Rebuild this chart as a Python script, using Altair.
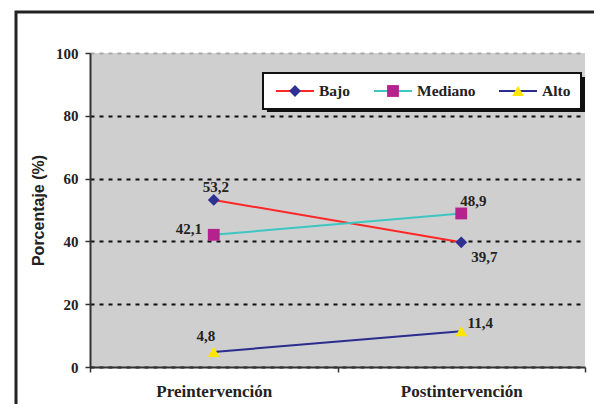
import altair as alt
import pandas as pd

# ---- data ----
phases = ["Preintervención", "Postintervención"]
series = ["Bajo", "Mediano", "Alto"]
bajo = [53.2, 39.7]
mediano = [42.1, 48.9]
alto = [4.8, 11.4]
y_ticks = [0, 20, 40, 60, 80, 100]

# ---- styles ----
line_colors = ["#FF2626", "#3EC6C2", "#2B2D8E"]
marker_colors = ["#2E3192", "#B5218D", "#FFE600"]
marker_shapes = ["diamond", "square", "triangle-up"]
W, H = 495, 314
SERIF = "Liberation Serif"
SANS = "Liberation Sans"

rows = []
for s, vals in zip(series, [bajo, mediano, alto]):
    for p, v in zip(phases, vals):
        rows.append({"fase": p, "serie": s, "valor": v,
                     "etiqueta": f"{v:.1f}".replace(".", ",")})
df = pd.DataFrame(rows)

x_enc = alt.X("fase:N", sort=phases, bandPosition=0.5,
              scale=alt.Scale(type="band", domain=phases, paddingInner=0, paddingOuter=0),
              axis=alt.Axis(title=None, labelAngle=0, tickBand="extent", tickSize=5,
                            labelFont=SERIF, labelFontWeight="bold", labelFontSize=17,
                            labelColor="#222222", labelPadding=11, tickColor="#333333",
                            domainColor="#333333", domainWidth=2, tickWidth=1.5, grid=False))
y_enc = alt.Y("valor:Q", scale=alt.Scale(domain=[0, 100], nice=False),
              axis=alt.Axis(title="Porcentaje (%)", values=y_ticks, tickSize=5,
                            labelFont=SERIF, labelFontWeight="bold", labelFontSize=15,
                            labelColor="#222222", labelPadding=7,
                            titleFont=SANS, titleFontWeight="bold", titleFontSize=16,
                            titleColor="#222222", titlePadding=9,
                            domainColor="#333333", domainWidth=2, tickColor="#333333",
                            tickWidth=1.5,
                            grid=True, gridDash=[4, 5], gridWidth=2,
                            gridColor=alt.condition("datum.value >= 100", alt.value("#A8A8A8"), alt.value("#111111"))))

base = alt.Chart(df)

lines = base.mark_line(strokeWidth=2).encode(
    x=x_enc, y=y_enc,
    color=alt.Color("serie:N", scale=alt.Scale(domain=series, range=line_colors), legend=None),
)
points = base.mark_point(filled=True, opacity=1, size=140, strokeWidth=0).encode(
    x=x_enc, y=y_enc,
    fill=alt.Fill("serie:N", scale=alt.Scale(domain=series, range=marker_colors), legend=None),
    shape=alt.Shape("serie:N", scale=alt.Scale(domain=series, range=marker_shapes), legend=None),
)

label_offsets = {
    ("Bajo", "Preintervención"): (2, -13),
    ("Bajo", "Postintervención"): (23, 15),
    ("Mediano", "Preintervención"): (-25, -6),
    ("Mediano", "Postintervención"): (12, -12),
    ("Alto", "Preintervención"): (-8, -16),
    ("Alto", "Postintervención"): (19, -8),
}
texts = []
for (s, p), (dx, dy) in label_offsets.items():
    texts.append(
        base.transform_filter((alt.datum.serie == s) & (alt.datum.fase == p))
        .mark_text(font=SERIF, fontWeight="bold", fontSize=15, color="#222222",
                   dx=dx, dy=dy, baseline="middle", align="center")
        .encode(x=x_enc, y=y_enc, text="etiqueta:N")
    )

one = alt.Chart(pd.DataFrame({"k": [0]}))

# legend (drawn)
LX0, LX1, LY0, LY1 = 173, 491, 20, 56
legend_layers = [
    one.mark_rect(fill="#111111").encode(x=alt.value(LX0 + 4), x2=alt.value(LX1 + 4),
                                         y=alt.value(LY0 + 4), y2=alt.value(LY1 + 3)),
    one.mark_rect(fill="white", stroke="#111111", strokeWidth=2).encode(
        x=alt.value(LX0), x2=alt.value(LX1), y=alt.value(LY0), y2=alt.value(LY1)),
]
centers = [205, 303, 428]
ly = (LY0 + LY1) / 2
for s, cx, lc, mc, sh in zip(series, centers, line_colors, marker_colors, marker_shapes):
    legend_layers.append(one.mark_rule(color=lc, strokeWidth=2).encode(
        x=alt.value(cx - 19), x2=alt.value(cx + 19), y=alt.value(ly)))
    legend_layers.append(one.mark_point(filled=True, opacity=1, size=140, strokeWidth=0,
                                        fill=mc, shape=sh).encode(
        x=alt.value(cx), y=alt.value(ly)))
    legend_layers.append(one.mark_text(text=s, font=SERIF, fontWeight="bold", fontSize=15.5,
                                       color="#222222", align="left", baseline="middle").encode(
        x=alt.value(cx + 24), y=alt.value(ly)))

frame = one.mark_rect(fill=None, stroke="#222222", strokeWidth=3).encode(
    x=alt.value(-74), x2=alt.value(560), y=alt.value(-41), y2=alt.value(400))

chart = alt.layer(frame, lines, points, *texts, *legend_layers).properties(
    width=W, height=H,
    autosize=alt.AutoSizeParams(type="none"),
    padding={"left": 82, "top": 45, "right": 9, "bottom": 37},
    background="white",
).configure_view(fill="#CFCFCF", stroke=None)

chart.save("out.html", embed_options={"renderer": "svg", "actions": False})
